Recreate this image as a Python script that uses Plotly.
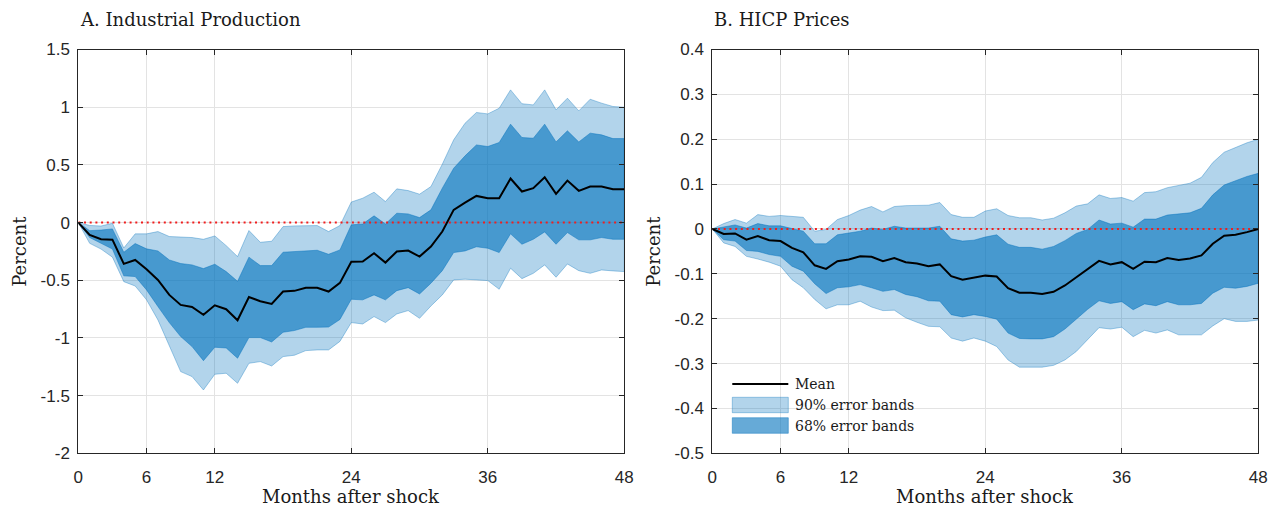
import plotly.graph_objects as go

# ---------------------------------------------------------------
# Impulse responses to the shock, 0..48 months, with 68% / 90% bands
# ---------------------------------------------------------------
months = list(range(49))
x_ticks = [0, 6, 12, 24, 36, 48]

# Panel A: industrial production (percent)
ip_mean = [0, -0.107, -0.145, -0.148, -0.358, -0.324, -0.405, -0.497, -0.627, -0.714,
           -0.731, -0.80, -0.717, -0.751, -0.847, -0.645, -0.682, -0.705, -0.598, -0.592,
           -0.566, -0.566, -0.598, -0.523, -0.34, -0.338, -0.266, -0.347, -0.251, -0.243,
           -0.295, -0.208, -0.078, 0.11, 0.173, 0.231, 0.211, 0.211, 0.382, 0.269,
           0.298, 0.393, 0.249, 0.364, 0.275, 0.312, 0.312, 0.289, 0.289]
ip_hi68 = [0, -0.07, -0.065, -0.055, -0.257, -0.182, -0.228, -0.246, -0.324, -0.355,
           -0.367, -0.399, -0.361, -0.425, -0.509, -0.30, -0.373, -0.373, -0.257, -0.251,
           -0.24, -0.24, -0.275, -0.237, -0.02, -0.012, 0.058, -0.012, 0.081, 0.075,
           0.043, 0.11, 0.298, 0.471, 0.578, 0.673, 0.659, 0.694, 0.853, 0.737,
           0.731, 0.853, 0.699, 0.795, 0.699, 0.775, 0.76, 0.728, 0.728]
ip_lo68 = [0, -0.13, -0.18, -0.23, -0.462, -0.468, -0.584, -0.728, -0.867, -0.988,
           -1.075, -1.197, -1.081, -1.087, -1.176, -0.997, -0.997, -1.035, -0.951, -0.936,
           -0.908, -0.908, -0.906, -0.84, -0.665, -0.67, -0.627, -0.67, -0.59, -0.564,
           -0.619, -0.526, -0.417, -0.26, -0.246, -0.21, -0.223, -0.26, -0.098, -0.188,
           -0.145, -0.081, -0.188, -0.087, -0.15, -0.15, -0.13, -0.145, -0.145]
ip_hi90 = [0, -0.025, -0.03, -0.006, -0.22, -0.098, -0.098, -0.078, -0.121, -0.127,
           -0.13, -0.145, -0.116, -0.2, -0.295, -0.069, -0.171, -0.162, -0.035, -0.029,
           -0.026, -0.026, -0.078, -0.026, 0.178, 0.211, 0.263, 0.182, 0.292, 0.277,
           0.246, 0.312, 0.506, 0.717, 0.861, 0.954, 0.942, 0.991, 1.15, 1.03,
           1.02, 1.15, 0.977, 1.078, 0.968, 1.069, 1.035, 1.006, 1.0]
ip_lo90 = [0, -0.18, -0.23, -0.30, -0.512, -0.55, -0.67, -0.844, -1.075, -1.292,
           -1.335, -1.451, -1.315, -1.306, -1.393, -1.22, -1.205, -1.243, -1.162, -1.15,
           -1.11, -1.104, -1.104, -1.03, -0.867, -0.879, -0.815, -0.867, -0.792, -0.763,
           -0.83, -0.723, -0.627, -0.497, -0.491, -0.497, -0.503, -0.578, -0.396, -0.486,
           -0.44, -0.367, -0.474, -0.359, -0.417, -0.44, -0.411, -0.419, -0.425]

# Panel B: HICP prices (percent)
hicp_mean = [0, -0.011, -0.01, -0.024, -0.016, -0.025, -0.027, -0.042, -0.052, -0.081,
             -0.089, -0.072, -0.068, -0.061, -0.062, -0.072, -0.065, -0.074, -0.077, -0.083,
             -0.079, -0.105, -0.113, -0.108, -0.104, -0.106, -0.132, -0.142, -0.142, -0.145,
             -0.14, -0.126, -0.108, -0.091, -0.071, -0.079, -0.074, -0.089, -0.073, -0.074,
             -0.065, -0.069, -0.066, -0.059, -0.033, -0.015, -0.013, -0.007, 0]
hicp_hi68 = [0, 0.004, 0.009, 0.002, 0.012, 0.007, 0.007, 0.001, -0.005, -0.033,
             -0.033, -0.013, -0.009, -0.005, 0.002, -0.001, 0.006, 0.002, 0.002, 0.002,
             0.006, -0.022, -0.027, -0.025, -0.018, -0.013, -0.034, -0.041, -0.041, -0.045,
             -0.039, -0.026, -0.01, -0.001, 0.02, 0.011, 0.013, 0.004, 0.022, 0.022,
             0.031, 0.033, 0.036, 0.046, 0.076, 0.098, 0.107, 0.117, 0.124]
hicp_lo68 = [0, -0.024, -0.027, -0.048, -0.05, -0.057, -0.061, -0.083, -0.094, -0.122,
             -0.144, -0.131, -0.129, -0.124, -0.131, -0.139, -0.135, -0.146, -0.151, -0.16,
             -0.161, -0.191, -0.196, -0.191, -0.195, -0.201, -0.232, -0.244, -0.245, -0.245,
             -0.24, -0.223, -0.201, -0.179, -0.16, -0.166, -0.162, -0.18, -0.167, -0.171,
             -0.162, -0.169, -0.169, -0.166, -0.143, -0.13, -0.132, -0.128, -0.121]
hicp_hi90 = [0, 0.012, 0.021, 0.013, 0.032, 0.028, 0.03, 0.028, 0.026, -0.005,
             -0.001, 0.021, 0.03, 0.042, 0.05, 0.038, 0.05, 0.052, 0.053, 0.053,
             0.059, 0.032, 0.026, 0.026, 0.04, 0.045, 0.03, 0.025, 0.025, 0.02,
             0.024, 0.036, 0.051, 0.056, 0.076, 0.068, 0.07, 0.062, 0.081, 0.083,
             0.092, 0.097, 0.102, 0.115, 0.148, 0.171, 0.181, 0.192, 0.2]
hicp_lo90 = [0, -0.031, -0.039, -0.061, -0.067, -0.074, -0.083, -0.113, -0.131, -0.157,
             -0.178, -0.169, -0.169, -0.161, -0.174, -0.182, -0.181, -0.198, -0.208, -0.217,
             -0.218, -0.243, -0.25, -0.243, -0.25, -0.262, -0.292, -0.308, -0.308, -0.308,
             -0.304, -0.292, -0.273, -0.247, -0.22, -0.223, -0.219, -0.24, -0.226, -0.232,
             -0.225, -0.236, -0.236, -0.236, -0.216, -0.2, -0.206, -0.206, -0.203]

ip_yticks = [-2, -1.5, -1, -0.5, 0, 0.5, 1, 1.5]
ip_ylabels = ["-2", "-1.5", "-1", "-0.5", "0", "0.5", "1", "1.5"]
hicp_yticks = [-0.5, -0.4, -0.3, -0.2, -0.1, 0, 0.1, 0.2, 0.3, 0.4]
hicp_ylabels = ["-0.5", "-0.4", "-0.3", "-0.2", "-0.1", "0", "0.1", "0.2", "0.3", "0.4"]

panel_titles = ["A. Industrial Production", "B. HICP Prices"]
x_title = "Months after shock"
y_title = "Percent"
legend_labels = ["Mean", "90% error bands", "68% error bands"]

# ---------------------------------------------------------------
# Styling
# ---------------------------------------------------------------
W, H = 1277, 506
BAND90 = "rgba(0,114,189,0.3)"
BAND68 = "rgba(0,114,189,0.6)"
EDGE90 = "rgba(0,114,189,0.35)"
EDGE68 = "rgba(0,114,189,0.45)"
AXIS = "#262626"
GRID = "#e3e3e3"
SERIF = "DejaVu Serif, serif"
SANS = "Liberation Sans, Arial, sans-serif"

# plot-area pixel boxes (left, right) and shared (top, bottom)
panel_px = [(78.3, 624.3), (712.3, 1258.3)]
top_px, bot_px = 49.5, 453.3


def fx(p):
    return p / W


def fy(p):
    return 1 - p / H


fig = go.Figure()


def add_panel(idx, mean, lo68, hi68, lo90, hi90):
    xa = "x" if idx == 0 else "x2"
    ya = "y" if idx == 0 else "y2"
    back = months[::-1]
    fig.add_trace(go.Scatter(
        x=months + back, y=hi90 + lo90[::-1], fill="toself", fillcolor=BAND90,
        line=dict(color=EDGE90, width=1), mode="lines", hoverinfo="skip",
        showlegend=False, xaxis=xa, yaxis=ya))
    fig.add_trace(go.Scatter(
        x=months + back, y=hi68 + lo68[::-1], fill="toself", fillcolor=BAND68,
        line=dict(color=EDGE68, width=1), mode="lines", hoverinfo="skip",
        showlegend=False, xaxis=xa, yaxis=ya))
    # dotted zero reference line
    fig.add_trace(go.Scatter(
        x=[months[0], months[-1]], y=[0, 0], mode="lines",
        line=dict(color="rgb(240,30,30)", width=2, dash="2px,3.7px"),
        hoverinfo="skip", showlegend=False, xaxis=xa, yaxis=ya))
    fig.add_trace(go.Scatter(
        x=months, y=mean, mode="lines", line=dict(color="black", width=2),
        showlegend=False, xaxis=xa, yaxis=ya))


add_panel(0, ip_mean, ip_lo68, ip_hi68, ip_lo90, ip_hi90)
add_panel(1, hicp_mean, hicp_lo68, hicp_hi68, hicp_lo90, hicp_hi90)


def xaxis_cfg(i):
    l, r = panel_px[i]
    return dict(
        domain=[fx(l), fx(r)], range=[0, 48], tickmode="array",
        tickvals=x_ticks, ticktext=[str(t) for t in x_ticks],
        showline=True, linecolor=AXIS, linewidth=1, mirror="ticks",
        ticks="inside", ticklen=5, tickcolor=AXIS, tickwidth=1,
        showgrid=True, gridcolor=GRID, gridwidth=1, zeroline=False,
        tickfont=dict(family=SANS, size=17, color=AXIS), automargin=False,
        ticklabelstandoff=8, anchor="y" if i == 0 else "y2")


def yaxis_cfg(i, vals, labels, rng):
    return dict(
        domain=[fy(bot_px), fy(top_px)], range=rng, tickmode="array",
        tickvals=vals, ticktext=labels,
        showline=True, linecolor=AXIS, linewidth=1, mirror="ticks",
        ticks="inside", ticklen=5, tickcolor=AXIS, tickwidth=1,
        showgrid=True, gridcolor=GRID, gridwidth=1, zeroline=False,
        tickfont=dict(family=SANS, size=17, color=AXIS), automargin=False,
        ticklabelstandoff=4, anchor="x" if i == 0 else "x2")


annotations = []
for i, (l, r) in enumerate(panel_px):
    # panel title, left-aligned with the plot area
    annotations.append(dict(
        text=panel_titles[i], x=fx(l), y=fy(19), xref="paper", yref="paper",
        xanchor="left", yanchor="middle", showarrow=False,
        font=dict(family=SERIF, size=18, color="#1a1a1a")))
    annotations.append(dict(
        text=x_title, x=fx((l + r) / 2), y=fy(496), xref="paper", yref="paper",
        xanchor="center", yanchor="middle", showarrow=False,
        font=dict(family=SERIF, size=18, color="#1a1a1a")))
    annotations.append(dict(
        text=y_title, x=fx(l - 59), y=fy((top_px + bot_px) / 2),
        xref="paper", yref="paper", xanchor="center", yanchor="middle",
        textangle=-90, showarrow=False,
        font=dict(family=SERIF, size=18, color="#1a1a1a")))

# legend inside panel B (lower-left), positioned in that axis' domain
lx0, lx1, ltx = 0.0366, 0.1392, 0.1484
leg_rows = [0.1716, 0.1196, 0.0688]
shapes = [
    dict(type="line", xref="x2 domain", yref="y2 domain", x0=lx0, x1=lx1,
         y0=leg_rows[0], y1=leg_rows[0], line=dict(color="black", width=2)),
    dict(type="rect", xref="x2 domain", yref="y2 domain", x0=lx0, x1=lx1,
         y0=0.1005, y1=0.1387, fillcolor=BAND90, line=dict(color=EDGE90, width=1)),
    dict(type="rect", xref="x2 domain", yref="y2 domain", x0=lx0, x1=lx1,
         y0=0.0495, y1=0.0881, fillcolor=BAND68, line=dict(color=EDGE68, width=1)),
]
for lab, yy in zip(legend_labels, leg_rows):
    annotations.append(dict(
        text=lab, x=ltx, y=yy, xref="x2 domain", yref="y2 domain",
        xanchor="left", yanchor="middle", showarrow=False,
        font=dict(family=SERIF, size=14, color="#1a1a1a")))

fig.update_layout(
    width=W, height=H, margin=dict(l=0, r=0, t=0, b=0, autoexpand=False),
    paper_bgcolor="white", plot_bgcolor="white",
    xaxis=xaxis_cfg(0), xaxis2=xaxis_cfg(1),
    yaxis=yaxis_cfg(0, ip_yticks, ip_ylabels, [-2, 1.5]),
    yaxis2=yaxis_cfg(1, hicp_yticks, hicp_ylabels, [-0.5, 0.4]),
    annotations=annotations, shapes=shapes, showlegend=False,
)

fig.write_html("out.html")
